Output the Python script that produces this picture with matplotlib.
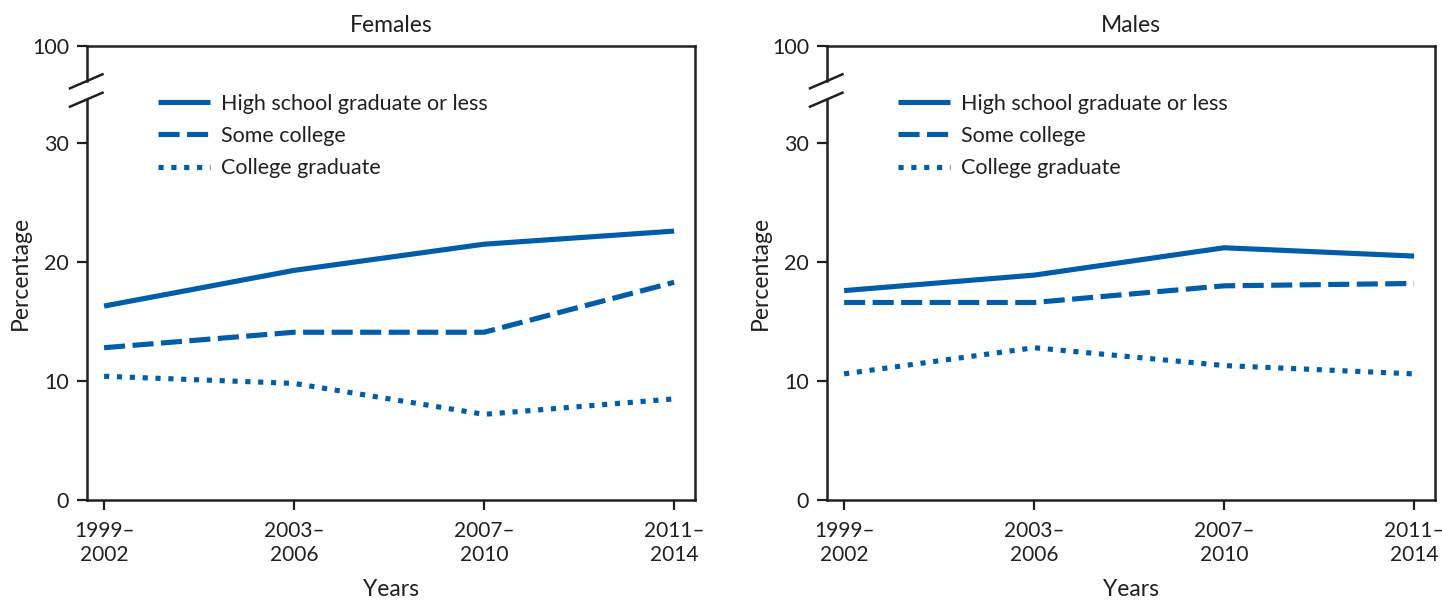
import matplotlib
matplotlib.use("Agg")
import matplotlib.pyplot as plt
from matplotlib.lines import Line2D

plt.rcParams["font.family"] = ["Lato", "DejaVu Sans"]

periods = ["1999–\n2002", "2003–\n2006", "2007–\n2010", "2011–\n2014"]
series_names = ["High school graduate or less", "Some college", "College graduate"]

females_hs = [16.3, 19.3, 21.5, 22.6]
females_some = [12.8, 14.1, 14.1, 18.3]
females_grad = [10.4, 9.8, 7.2, 8.5]

males_hs = [17.6, 18.9, 21.2, 20.5]
males_some = [16.6, 16.6, 18.0, 18.2]
males_grad = [10.6, 12.8, 11.3, 10.6]

y_ticks = [0, 10, 20, 30]
y_top = 38.2          # position of the broken-axis "100" tick
y_top_label = "100"

BLUE = "#005DAA"
INK = "#231f20"
styles = [
    dict(linestyle="-"),
    dict(linestyle=(0, (4.1, 1.45))),
    dict(linestyle=(0, (1.0, 1.5))),
]

W, H = 1442, 600
fig = plt.figure(figsize=(W / 100, H / 100), dpi=100)

panels = [
    ("Females", [females_hs, females_some, females_grad], 87),
    ("Males", [males_hs, males_some, males_grad], 827),
]

for title, data, left_px in panels:
    ax = fig.add_axes([left_px / W, 100 / H, 608 / W, 454.5 / H])
    x = list(range(len(periods)))
    handles = []
    for vals, st, name in zip(data, styles, series_names):
        ln, = ax.plot(x, vals, color=BLUE, linewidth=3.7, solid_capstyle="butt",
                      dash_capstyle="butt", label=name, **st)
        handles.append(ln)

    ax.set_xlim(-0.09, 3.11)
    ax.set_ylim(0, y_top)
    ax.set_xticks(x)
    ax.set_xticklabels(periods, fontsize=15, color=INK, linespacing=1.25)
    ax.set_yticks(y_ticks + [y_top])
    ax.set_yticklabels([str(t) for t in y_ticks] + [y_top_label], fontsize=15.5, color=INK)
    ax.tick_params(direction="out", length=7, width=1.6, color=INK, pad=6)
    ax.tick_params(axis="x", pad=8)
    for s in ["top", "right", "bottom"]:
        ax.spines[s].set_linewidth(1.8)
        ax.spines[s].set_color(INK)
    ax.spines["left"].set_visible(False)

    # pixel offsets measured from the left panel, shifted for each panel
    def fy(px):
        return (500 - px) / 454.5

    def fx(px):
        return (px - 87) / 608

    # left spine with a break between 81 px and 100 px (from top)
    for y0, y1 in [(0, fy(100)), (fy(81), 1)]:
        ax.add_line(Line2D([0, 0], [y0, y1], transform=ax.transAxes, color=INK,
                           linewidth=1.8, clip_on=False, solid_capstyle="projecting"))
    for ya, yb in [(88.3, 74.3), (106.7, 92.7)]:
        ax.add_line(Line2D([fx(70), fx(102.5)], [fy(ya), fy(yb)],
                           transform=ax.transAxes, color=INK, linewidth=1.8, clip_on=False))

    ax.set_title(title, fontsize=16.5, color=INK, pad=10)
    ax.set_xlabel("Years", fontsize=16.5, color=INK, labelpad=10)
    ax.set_ylabel("Percentage", fontsize=16.5, color=INK, labelpad=1)

    ax.legend(handles=handles, loc="upper left", bbox_to_anchor=(fx(158), fy(93.5)),
              borderpad=0, borderaxespad=0,
              frameon=False, fontsize=15.5, handlelength=2.42, handletextpad=0.5,
              labelspacing=0.57, labelcolor=INK)

fig.savefig("out.png", dpi=100)
